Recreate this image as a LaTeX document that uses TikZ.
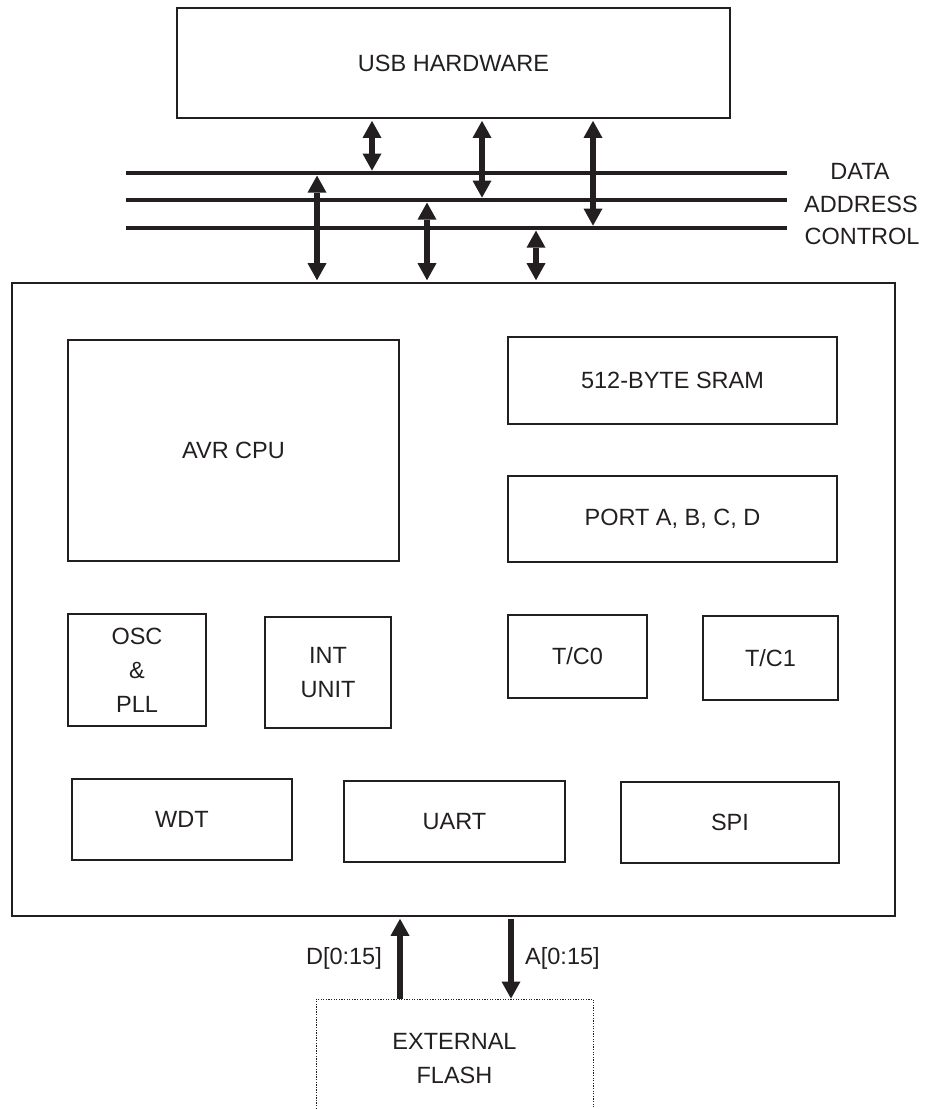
\documentclass[tikz,border=0pt]{standalone}
\usepackage{fontspec}
\setmainfont{Liberation Sans}
\usetikzlibrary{arrows.meta}
\definecolor{ink}{HTML}{231F20}
\begin{document}
\begin{tikzpicture}[x=1pt,y=-1pt,
  txt/.style={font=\fontsize{23.5}{34}\selectfont, text=ink, align=center, inner sep=0pt},
  blk/.style={txt, draw=ink, line width=1.2pt},
  frame/.style={txt, draw=ink, line width=2.8pt},
  bus/.style={draw=ink, line width=4.5pt},
  tipT/.tip={Triangle[width=19pt,length=17pt,line width=0pt]},
  bidir/.style={draw=ink, fill=ink, line width=6.5pt, {tipT}-{tipT}},
  uni/.style={draw=ink, fill=ink, line width=6.5pt, -{tipT}},
  flashbox/.style={txt, draw=ink, line width=0.9pt, dash pattern=on 1.3pt off 1.3pt}]
\useasboundingbox (0,0) rectangle (935,1109);
\clip (0,0) rectangle (935,1109);

% USB block and system bus
\node[frame, minimum width=553pt, minimum height=110pt] (usb) at (453.5,63) {USB HARDWARE};

\coordinate (dataW) at (126,173);  \coordinate (dataE) at (787,173);
\coordinate (addrW) at (126,200);  \coordinate (addrE) at (787,200);
\coordinate (ctrlW) at (126,228);  \coordinate (ctrlE) at (787,228);
\draw[bus] (dataW) -- (dataE);
\draw[bus] (addrW) -- (addrE);
\draw[bus] (ctrlW) -- (ctrlE);

\node[txt] (dataT) at (860,171) {DATA};
\node[txt] (addrT) at (861,204) {ADDRESS};
\node[txt] (ctrlT) at (862,236) {CONTROL};

% microcontroller outline
\node[frame, minimum width=883pt, minimum height=633pt] (main) at (453.5,599.5) {};

% taps between USB block and the bus
\coordinate (u1) at (372,173);
\coordinate (u2) at (482,200);
\coordinate (u3) at (593,228);
\draw[bidir, shorten <=1.5pt, shorten >=2.4pt] (usb.south -| u1) -- (u1);
\draw[bidir, shorten <=1.5pt, shorten >=2.4pt] (usb.south -| u2) -- (u2);
\draw[bidir, shorten <=1.5pt, shorten >=2.4pt] (usb.south -| u3) -- (u3);

% taps between the bus and the microcontroller
\coordinate (m1) at (317,173);
\coordinate (m2) at (427,200);
\coordinate (m3) at (536,228);
\draw[bidir, shorten <=2.6pt, shorten >=1.4pt] (m1) -- (m1 |- main.north);
\draw[bidir, shorten <=2.6pt, shorten >=1.4pt] (m2) -- (m2 |- main.north);
\draw[bidir, shorten <=2.6pt, shorten >=1.4pt] (m3) -- (m3 |- main.north);

% internal blocks
\node[blk, minimum width=331pt, minimum height=221pt] (cpu)  at (233.5,450.5) {AVR CPU};
\node[blk, minimum width=329pt, minimum height=87pt]  (sram) at (672.5,380.5) {512-BYTE SRAM};
\node[blk, minimum width=329pt, minimum height=86pt]  (port) at (672.5,519)   {PORT A, B, C, D};
\node[blk, minimum width=138pt, minimum height=112pt] (osc)  at (137,670)     {OSC\\\&\\PLL};
\node[blk, minimum width=126pt, minimum height=111pt] (intu) at (328,672.5)   {INT\\UNIT};
\node[blk, minimum width=139pt, minimum height=83pt]  (tc0)  at (577.5,656.5) {T/C0};
\node[blk, minimum width=135pt, minimum height=84pt]  (tc1)  at (770.5,658)   {T/C1};
\node[blk, minimum width=220pt, minimum height=81pt]  (wdt)  at (182,819.5)   {WDT};
\node[blk, minimum width=221pt, minimum height=81pt]  (uart) at (454.5,821.5) {UART};
\node[blk, minimum width=218pt, minimum height=81pt]  (spi)  at (730,822.5)   {SPI};

% external flash and its buses
\node[flashbox, minimum width=277pt, minimum height=120pt] (flash) at (454.5,1059) {EXTERNAL\\FLASH};
\coordinate (dx) at (400,0);
\coordinate (ax) at (511,0);
\draw[uni, shorten >=1.4pt] (dx |- flash.north) -- (dx |- main.south);
\draw[uni, shorten <=1.4pt] (ax |- main.south) -- (ax |- flash.north);
\node[txt, anchor=east] (dlab) at (382,958) {D[0:15]};
\node[txt, anchor=west] (alab) at (525,958) {A[0:15]};
\end{tikzpicture}
\end{document}
